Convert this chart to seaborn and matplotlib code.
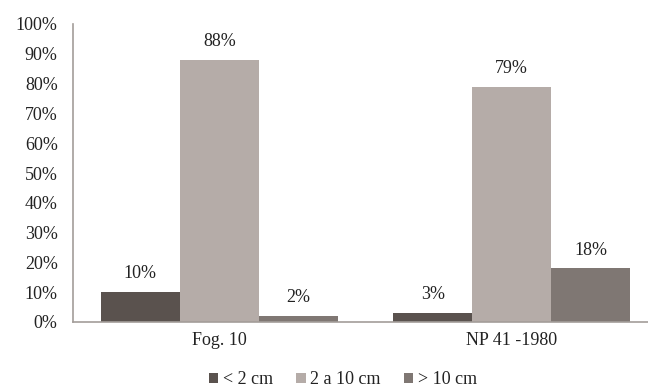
import matplotlib
matplotlib.use("Agg")
import matplotlib.pyplot as plt
import seaborn as sns
import pandas as pd

sites = ["Fog. 10", "NP 41 -1980"]
size_classes = ["< 2 cm", "2 a 10 cm", "> 10 cm"]
fog10_share = [0.10, 0.88, 0.02]
np41_share = [0.03, 0.79, 0.18]
y_ticks = [0.0, 0.1, 0.2, 0.3, 0.4, 0.5, 0.6, 0.7, 0.8, 0.9, 1.0]
colors = ["#5a524e", "#b5aca8", "#7f7773"]

rows = []
for site, shares in zip(sites, [fog10_share, np41_share]):
    for cls, v in zip(size_classes, shares):
        rows.append({"site": site, "size": cls, "share": v})
df = pd.DataFrame(rows)

sns.set_theme(style="white")
plt.rcParams["font.family"] = ["Liberation Serif", "DejaVu Serif"]

fig = plt.figure(figsize=(6.48, 3.90), dpi=100)
ax = fig.add_axes([73 / 648, (390 - 322) / 390, (658 - 73) / 648, (322 - 24) / 390])

sns.barplot(data=df, x="site", y="share", hue="size", hue_order=size_classes,
            order=sites, palette=colors, width=0.81, gap=0, saturation=1,
            linewidth=0, ax=ax, legend=True)

for cont in ax.containers:
    ax.bar_label(cont, labels=[f"{v * 100:.0f}%" for v in cont.datavalues],
                 padding=7, fontsize=13, color="#222222")

ax.set_ylim(0, 1)
ax.set_xlim(-0.5, 1.5)
ax.set_yticks(y_ticks)
ax.set_yticklabels([f"{t * 100:.0f}%" for t in y_ticks], fontsize=13, color="#222222")
ax.tick_params(axis="x", labelsize=13, colors="#222222", length=0, pad=7)
ax.tick_params(axis="y", length=0, pad=11)
ax.set_xlabel("")
ax.set_ylabel("")

for side in ["top", "right"]:
    ax.spines[side].set_visible(False)
for side in ["left", "bottom"]:
    ax.spines[side].set_color("#a39d99")
    ax.spines[side].set_linewidth(1.2)

handles, labels = ax.get_legend_handles_labels()
ax.legend_.remove()
fig.legend(handles, labels, loc="center", bbox_to_anchor=(343 / 648, 1 - 380 / 390),
           ncol=3, frameon=False, fontsize=13, handlelength=0.5, handleheight=0.5,
           handletextpad=0.25, columnspacing=1.3, labelcolor="#222222")

fig.savefig("out.png", dpi=100, facecolor="white")
